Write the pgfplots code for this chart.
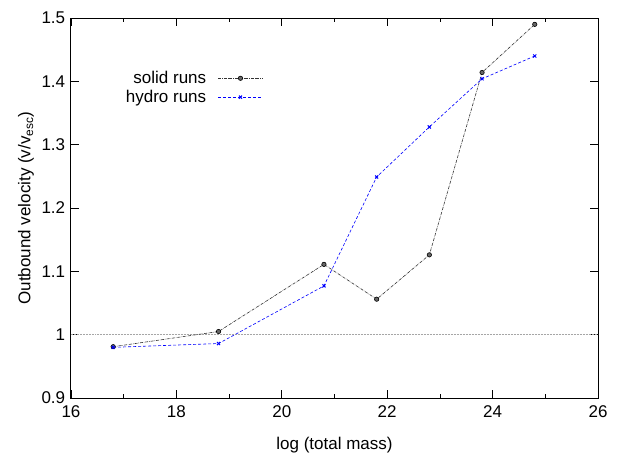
\documentclass[border=0pt]{standalone}
\usepackage{pgfplots}
\pgfplotsset{compat=1.18}
\usepackage{fontspec}
\setmainfont{Liberation Sans}
\begin{document}
\fontsize{17}{20}\selectfont
\begin{tikzpicture}
\useasboundingbox (-71pt,-69pt) rectangle (552pt,398pt);
\begin{axis}[
  at={(0pt,0pt)}, anchor=south west,
  scale only axis, width=527pt, height=380pt,
  xmin=16, xmax=26, ymin=0.9, ymax=1.5,
  xtick={16,18,...,26}, ytick={0.9,1,...,1.5},
  minor xtick={17,19,...,25},
  tick align=inside, major tick length=8pt, minor tick length=4pt,
  axis line style={line width=1pt}, tick style={line width=0.8pt,black},
  /pgf/number format/assume math mode=true,
  ticklabel style={font=\fontsize{17}{20}\selectfont},
  xticklabel style={yshift=-2pt},
  xlabel={log (total mass)}, ylabel={Outbound velocity (v/v\textsubscript{esc})},
  label style={font=\fontsize{17}{20}\selectfont},
  xlabel style={yshift=-8pt}, ylabel style={yshift=-4pt},
  legend style={draw=none, fill=none, at={(0.37,0.872)}, anchor=north east,
    font=\fontsize{17}{20}\selectfont, row sep=0pt},
  legend cell align=right, legend plot pos=right,
  legend image code/.code={\path (0pt,0pt);
    \draw[mark repeat=2,mark phase=2,#1]
    plot coordinates {(10pt,0pt) (32pt,0pt) (54pt,0pt)};},
]
\addplot[gray!70, densely dotted, line width=0.5pt, forget plot] coordinates {(16,1) (26,1)};
\addplot[black!80, densely dash dot, line width=0.6pt, mark=*, mark size=2.2pt,
  mark options={solid, fill=black!60, draw=black}] coordinates {
  (16.8,0.981) (18.8,1.005) (20.8,1.111) (21.8,1.056) (22.8,1.126) (23.8,1.414) (24.8,1.490)};
\addplot[blue, densely dashed, line width=0.6pt, mark=x, mark size=2.2pt,
  mark options={solid, line width=1pt}] coordinates {
  (16.8,0.980) (18.8,0.986) (20.8,1.077) (21.8,1.249) (22.8,1.328) (23.8,1.404) (24.8,1.440)};
\legend{solid runs, hydro runs}
\end{axis}
\end{tikzpicture}
\end{document}
